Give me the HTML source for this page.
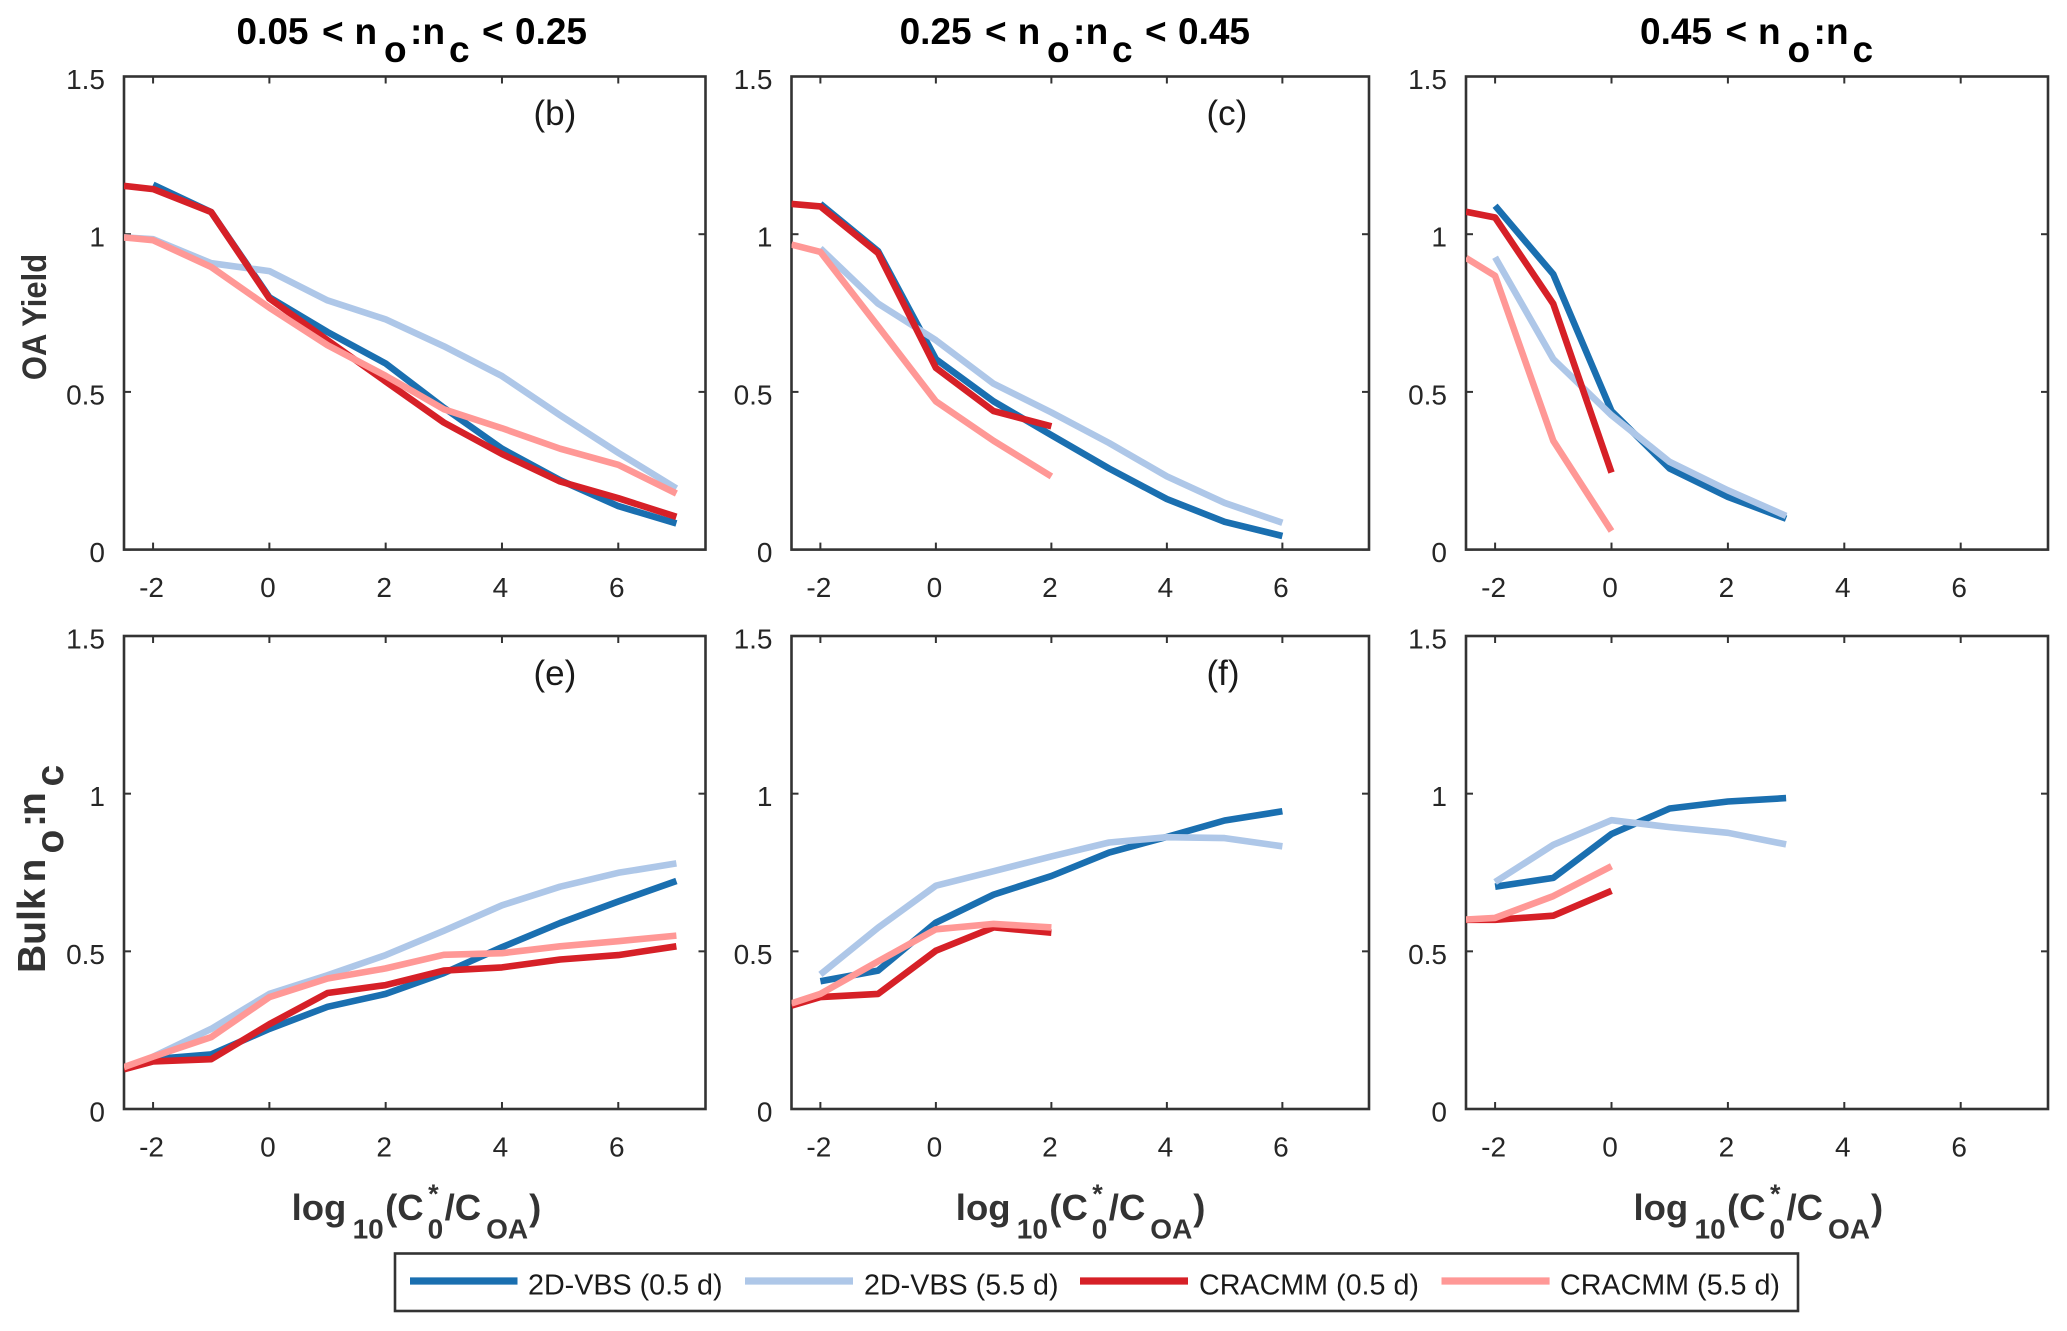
<!DOCTYPE html>
<html lang="en">
<head>
<meta charset="utf-8">
<title>OA yield and bulk nO:nC versus log10(C0*/COA)</title>
<style>
html,body{margin:0;padding:0;background:#fff;}
svg{display:block;font-family:"Liberation Sans",sans-serif;}
</style>
</head>
<body>
<svg id="figure" xmlns="http://www.w3.org/2000/svg" width="2067" height="1331" viewBox="0 0 2067 1331">
  <rect width="2067" height="1331" fill="#fff"/>

  <g font-weight="bold" font-size="37" fill="#000">
    <text y="44"><tspan x="236.5">0.05</tspan><tspan x="322">&lt;</tspan><tspan x="354.5">n</tspan><tspan x="384" dy="18">o</tspan><tspan x="410" dy="-18">:</tspan><tspan x="422.5">n</tspan><tspan x="449" dy="18">c</tspan><tspan x="482" dy="-18">&lt;</tspan><tspan x="515">0.25</tspan></text>
    <text y="44"><tspan x="899.6">0.25</tspan><tspan x="985">&lt;</tspan><tspan x="1017.6">n</tspan><tspan x="1047" dy="18">o</tspan><tspan x="1073" dy="-18">:</tspan><tspan x="1085.6">n</tspan><tspan x="1112" dy="18">c</tspan><tspan x="1145" dy="-18">&lt;</tspan><tspan x="1178">0.45</tspan></text>
    <text y="44"><tspan x="1640">0.45</tspan><tspan x="1725.5">&lt;</tspan><tspan x="1758">n</tspan><tspan x="1787.5" dy="18">o</tspan><tspan x="1813.5" dy="-18">:</tspan><tspan x="1826">n</tspan><tspan x="1852.5" dy="18">c</tspan></text>
  </g>

  <text transform="translate(46,317) rotate(-90) scale(1,1.1)" text-anchor="middle" font-weight="bold" font-size="31" fill="#333">OA Yield</text>
  <text transform="translate(45,973) rotate(-90)" font-weight="bold" font-size="39" fill="#333"><tspan x="0">Bulk</tspan><tspan x="90.5">n</tspan><tspan x="119.5" dy="18">o</tspan><tspan x="146" dy="-18">:</tspan><tspan x="157">n</tspan><tspan x="186.5" dy="18">c</tspan></text>

  <g id="panels"></g>

  <g id="xlabels"></g>

  <g>
    <rect x="395" y="1253.5" width="1403" height="57.5" fill="#fff" stroke="#333" stroke-width="2.6"/>
    <g>
      <line x1="410" x2="517.5" y1="1281" y2="1281" stroke="#1a6fb0" stroke-width="7.3"/>
      <text x="528" y="1294.6" font-size="28.7" fill="#1a1a1a">2D-VBS (0.5 d)</text>
    </g>
    <g>
      <line x1="745" x2="853" y1="1281" y2="1281" stroke="#aec7e8" stroke-width="7.3"/>
      <text x="864" y="1294.6" font-size="28.7" fill="#1a1a1a">2D-VBS (5.5 d)</text>
    </g>
    <g>
      <line x1="1080" x2="1188" y1="1281" y2="1281" stroke="#d62027" stroke-width="7.3"/>
      <text x="1199" y="1294.6" font-size="28.7" fill="#1a1a1a">CRACMM (0.5 d)</text>
    </g>
    <g>
      <line x1="1441.5" x2="1549.6" y1="1281" y2="1281" stroke="#ff9896" stroke-width="7.3"/>
      <text x="1560" y="1294.6" font-size="28.7" fill="#1a1a1a">CRACMM (5.5 d)</text>
    </g>
  </g>
</svg>

<script>
// Shared x categories: log10(C0*/COA)
const logC = [-2.5, -2, -1, 0, 1, 2, 3, 4, 5, 6, 7];
const xTickValues = [-2, 0, 2, 4, 6];
const yTickValues = [0, 0.5, 1, 1.5];
const yTickLabels = ["0", "0.5", "1", "1.5"];
const xLabelStarts = [291.6, 955.8, 1633.5];

// Panel (b): OA yield, 0.05 < nO:nC < 0.25
const bVbs05 = [null, 1.157, 1.07, 0.80, 0.69, 0.59, 0.45, 0.32, 0.22, 0.138, 0.083];
const bVbs55 = [0.99, 0.984, 0.908, 0.883, 0.79, 0.73, 0.645, 0.55, 0.426, 0.307, 0.194];
const bCracmm05 = [1.153, 1.143, 1.07, 0.796, 0.664, 0.533, 0.403, 0.303, 0.216, 0.163, 0.104];
const bCracmm55 = [0.99, 0.981, 0.896, 0.767, 0.648, 0.551, 0.445, 0.385, 0.32, 0.269, 0.178];

// Panel (c): OA yield, 0.25 < nO:nC < 0.45
const cVbs05 = [null, 1.096, 0.946, 0.604, 0.47, 0.363, 0.257, 0.16, 0.088, 0.043, null];
const cVbs55 = [null, 0.955, 0.78, 0.664, 0.526, 0.435, 0.338, 0.232, 0.148, 0.085, null];
const cCracmm05 = [1.096, 1.088, 0.94, 0.576, 0.439, 0.391, null, null, null, null, null];
const cCracmm55 = [0.967, 0.944, 0.708, 0.47, 0.345, 0.232, null, null, null, null, null];

// Panel (d): OA yield, 0.45 < nO:nC
const dVbs05 = [null, 1.09, 0.873, 0.439, 0.257, 0.167, 0.098, null, null, null, null];
const dVbs55 = [null, 0.927, 0.604, 0.426, 0.278, 0.188, 0.107, null, null, null, null];
const dCracmm05 = [1.071, 1.053, 0.779, 0.244, null, null, null, null, null, null, null];
const dCracmm55 = [0.925, 0.868, 0.345, 0.059, null, null, null, null, null, null, null];

// Panel (e): bulk nO:nC, 0.05 < nO:nC < 0.25
const eVbs05 = [null, 0.158, 0.173, 0.254, 0.324, 0.365, 0.431, 0.513, 0.59, 0.658, 0.723];
const eVbs55 = [null, 0.166, 0.254, 0.365, 0.424, 0.488, 0.565, 0.646, 0.705, 0.749, 0.779];
const eCracmm05 = [0.126, 0.151, 0.158, 0.269, 0.368, 0.393, 0.439, 0.449, 0.474, 0.488, 0.516];
const eCracmm55 = [0.133, 0.166, 0.228, 0.355, 0.414, 0.446, 0.489, 0.494, 0.516, 0.532, 0.55];

// Panel (f): bulk nO:nC, 0.25 < nO:nC < 0.45
const fVbs05 = [null, 0.405, 0.439, 0.591, 0.68, 0.739, 0.813, 0.863, 0.915, 0.944, null];
const fVbs55 = [null, 0.427, 0.575, 0.708, 0.754, 0.801, 0.845, 0.862, 0.859, 0.833, null];
const fCracmm05 = [0.328, 0.355, 0.365, 0.502, 0.576, 0.559, null, null, null, null, null];
const fCracmm55 = [0.335, 0.365, 0.468, 0.57, 0.587, 0.576, null, null, null, null, null];

// Panel (g): bulk nO:nC, 0.45 < nO:nC
const gVbs05 = [null, 0.705, 0.733, 0.872, 0.953, 0.975, 0.986, null, null, null, null];
const gVbs55 = [null, 0.72, 0.838, 0.916, 0.894, 0.876, 0.839, null, null, null, null];
const gCracmm05 = [0.6, 0.6, 0.613, 0.692, null, null, null, null, null, null, null];
const gCracmm55 = [0.601, 0.606, 0.675, 0.77, null, null, null, null, null, null, null];

const NS = "http://www.w3.org/2000/svg";
const XMIN = -2.5, XMAX = 7.5, YMIN = 0, YMAX = 1.5;
const AXIS_COLOR = "#333";
const TEXT_COLOR = "#262626";

const seriesStyles = [
  { key: "vbs-05", color: "#1a6fb0" },
  { key: "vbs-55", color: "#aec7e8" },
  { key: "cracmm-05", color: "#d62027" },
  { key: "cracmm-55", color: "#ff9896" }
];

const panels = [
  { id: "b", tag: "(b)", left: 124, right: 705.5, top: 76.5, bottom: 549.6, tagX: 533.5, tagY: 125, series: [bVbs05, bVbs55, bCracmm05, bCracmm55] },
  { id: "c", tag: "(c)", left: 791.5, right: 1369, top: 76.5, bottom: 549.6, tagX: 1206.5, tagY: 125, series: [cVbs05, cVbs55, cCracmm05, cCracmm55] },
  { id: "d", tag: "", left: 1466, right: 2048, top: 76.5, bottom: 549.6, tagX: 0, tagY: 0, series: [dVbs05, dVbs55, dCracmm05, dCracmm55] },
  { id: "e", tag: "(e)", left: 124, right: 705.5, top: 636, bottom: 1109, tagX: 533.5, tagY: 685, series: [eVbs05, eVbs55, eCracmm05, eCracmm55] },
  { id: "f", tag: "(f)", left: 791.5, right: 1369, top: 636, bottom: 1109, tagX: 1206.5, tagY: 685, series: [fVbs05, fVbs55, fCracmm05, fCracmm55] },
  { id: "g", tag: "", left: 1466, right: 2048, top: 636, bottom: 1109, tagX: 0, tagY: 0, series: [gVbs05, gVbs55, gCracmm05, gCracmm55] }
];

function svgEl(tag, attrs, parent) {
  const el = document.createElementNS(NS, tag);
  for (const k in attrs) el.setAttribute(k, attrs[k]);
  if (parent) parent.appendChild(el);
  return el;
}

const root = document.getElementById("panels");
const defs = svgEl("defs", {}, root);

panels.forEach(function (p) {
  const sx = function (v) { return p.left + (v - XMIN) / (XMAX - XMIN) * (p.right - p.left); };
  const sy = function (v) { return p.bottom - (v - YMIN) / (YMAX - YMIN) * (p.bottom - p.top); };

  const g = svgEl("g", {}, root);
  
  

  const clip = svgEl("clipPath", { id: "clip-" + p.id }, defs);
  svgEl("rect", { x: p.left, y: p.top, width: p.right - p.left, height: p.bottom - p.top }, clip);

  const frame = svgEl("rect", {
    x: p.left, y: p.top, width: p.right - p.left, height: p.bottom - p.top,
    fill: "none", stroke: AXIS_COLOR, "stroke-width": 2.6
  }, g);
  
  

  xTickValues.forEach(function (v) {
    const x = sx(v);
    const t1 = svgEl("line", { x1: x, x2: x, y1: p.bottom, y2: p.bottom - 7, stroke: AXIS_COLOR, "stroke-width": 2 }, g);
    
    
    const t2 = svgEl("line", { x1: x, x2: x, y1: p.top, y2: p.top + 7, stroke: AXIS_COLOR, "stroke-width": 2 }, g);
    
    
    const label = svgEl("text", { x: x - 1.5, y: p.bottom + 47.5, "text-anchor": "middle", "font-size": 28, fill: TEXT_COLOR }, g);
    
    
    label.textContent = String(v);
  });

  yTickValues.forEach(function (v, i) {
    const y = sy(v);
    const t1 = svgEl("line", { x1: p.left, x2: p.left + 7, y1: y, y2: y, stroke: AXIS_COLOR, "stroke-width": 2 }, g);
    
    
    const t2 = svgEl("line", { x1: p.right, x2: p.right - 7, y1: y, y2: y, stroke: AXIS_COLOR, "stroke-width": 2 }, g);
    
    
    const label = svgEl("text", { x: p.left - 19, y: y + 12.5, "text-anchor": "end", "font-size": 28, fill: TEXT_COLOR }, g);
    
    
    label.textContent = yTickLabels[i];
  });

  const lines = svgEl("g", { "clip-path": "url(#clip-" + p.id + ")" }, g);
  
  

  p.series.forEach(function (values, i) {
    const pts = [];
    values.forEach(function (v, j) {
      if (v !== null) pts.push(sx(logC[j]).toFixed(1) + "," + sy(v).toFixed(1));
    });
    const line = svgEl("polyline", {
      points: pts.join(" "),
      fill: "none",
      stroke: seriesStyles[i].color,
      "stroke-width": 6.6,
      "stroke-linejoin": "round",
      "stroke-linecap": "butt"
    }, lines);
    
    
    line.setAttribute('data-series', seriesStyles[i].key);
  });

  if (p.tag) {
    const tag = svgEl("text", { x: p.tagX, y: p.tagY, "font-size": 35, fill: "#1a1a1a" }, g);
    
    
    tag.textContent = p.tag;
  }
});

const xLabelRoot = document.getElementById("xlabels");
xLabelStarts.forEach(function (x0) {
  const t = svgEl("text", { y: 1220, "font-weight": "bold", "font-size": 36.5, fill: "#333" }, xLabelRoot);
  
  
  const pieces = [
    ["log", 0, 1220, 36.5],
    ["10", 61, 1238.5, 28],
    ["(C", 93.5, 1220, 36.5],
    ["*", 136.5, 1203, 27],
    ["0", 136, 1238.5, 28],
    ["/C", 153, 1220, 36.5],
    ["OA", 194.5, 1238.5, 28],
    [")", 237.5, 1220, 36.5]
  ];
  pieces.forEach(function (pc) {
    const s = svgEl("tspan", { x: x0 + pc[1], y: pc[2], "font-size": pc[3] }, t);
    s.textContent = pc[0];
  });
});
</script>
</body>
</html>
